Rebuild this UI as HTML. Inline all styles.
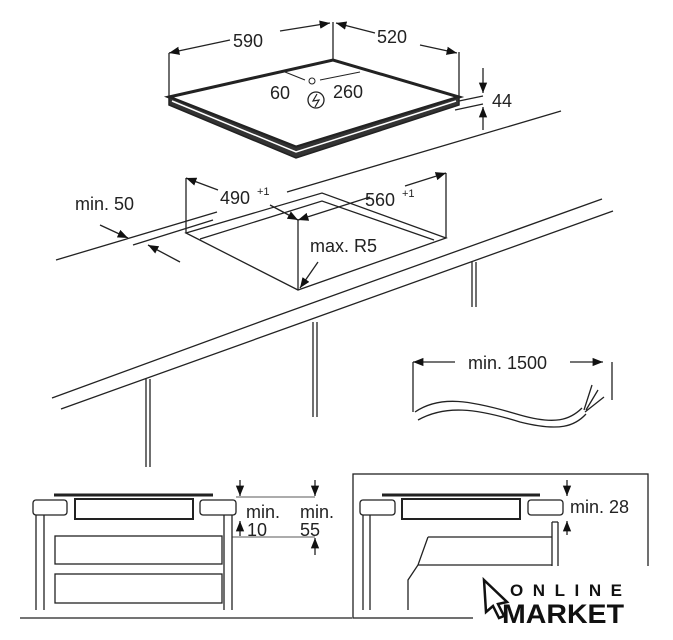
<!DOCTYPE html>
<html><head><style>body{margin:0;background:#fff}svg{display:block}text{font-family:"Liberation Sans",Arial,sans-serif;font-size:18px;fill:#222}</style></head>
<body>
<svg width="673" height="640" viewBox="0 0 673 640" xmlns="http://www.w3.org/2000/svg">
<defs><marker id="a" viewBox="0 0 10 10" refX="10" refY="5" markerWidth="8" markerHeight="8" orient="auto-start-reverse"><path d="M0,1 L10,5 L0,9z" fill="#111"/></marker></defs>
<g stroke="#222" fill="none" stroke-width="1.3">
<!-- hob -->
<path d="M169,97 L333,60 L459,97 L296,147 Z" stroke-width="3" fill="#fff"/>
<path d="M169,97 L296,147 L459,97 L459,105 L296,158 L169,105 Z" stroke-width="1.5" fill="#333"/>
<path d="M172,101 L296,152 L456,101" stroke="#fff" stroke-width="1.5"/>
<path d="M169,53 V97 M333,22 V60 M459,52 V96"/>
<path d="M169,53 L230,40" marker-start="url(#a)"/><path d="M280,31 L330,23" marker-end="url(#a)"/>
<path d="M336,23 L375,33" marker-start="url(#a)"/><path d="M420,45 L457,53" marker-end="url(#a)"/>
<path d="M285,72 L305,80 M320,80 L360,72" stroke-width="1"/>
<circle cx="312" cy="81" r="3" stroke-width="1"/>
<circle cx="316" cy="100" r="8"/><path d="M317,94 L313,101 L319,100 L315,107" stroke-width="1.2"/>
<path d="M459,101 L483,96 M455,110 L483,104"/>
<path d="M483,68 V93" marker-end="url(#a)"/><path d="M483,130 V107" marker-end="url(#a)"/>
<!-- counter -->
<path d="M561,111 L287,192 M217,212 L56,260"/>
<path d="M602,199 L265,320 L52,398 M613,211 L309,320 L61,409"/>
<path d="M472,262 V307 M476,262 V307 M313,322 V417 M317,322 V417 M146,379 V467 M150,379 V467"/>
<!-- cutout -->
<path d="M186,233 L322,193 L446,238 L298,290 Z"/>
<path d="M200,239 L322,201 L434,240"/>
<path d="M186,178 V233 M446,173 V238 M298,220 V290"/>
<path d="M186,178 L218,190" marker-start="url(#a)"/><path d="M270,205 L298,220" marker-end="url(#a)"/>
<path d="M405,186 L446,173" marker-end="url(#a)"/><path d="M370,197 L298,220" marker-end="url(#a)"/>
<path d="M318,262 L300,288" marker-end="url(#a)"/>
<path d="M100,225 L128,238" marker-end="url(#a)"/><path d="M180,262 L148,245" marker-end="url(#a)"/>
<path d="M133,245 L213,220"/>
<!-- cable -->
<path d="M413,362 V412 M612,362 V400"/>
<path d="M455,362 H413" marker-end="url(#a)"/><path d="M570,362 H603" marker-end="url(#a)"/>
<path d="M415,412 C440,395 470,400 520,415 C555,425 570,420 582,408"/>
<path d="M418,420 C445,405 475,408 520,422 C560,432 575,426 586,414"/>
<path d="M584,410 L592,385 M586,410 L598,390 M585,412 L604,397"/>
<!-- bottom left -->
<path d="M20,618 H352"/>
<path d="M54,495 H213" stroke-width="3"/>
<rect x="75" y="499" width="118" height="20" stroke-width="2"/>
<rect x="33" y="500" width="34" height="15" rx="3" fill="#fff"/>
<rect x="200" y="500" width="36" height="15" rx="3" fill="#fff"/>
<path d="M36,515 V610 M44,515 V610 M224,515 V610 M232,515 V610"/>
<rect x="55" y="536" width="167" height="28"/><rect x="55" y="574" width="167" height="29"/>
<path d="M236,497 H315 M232,537 H315" stroke-width="0.8"/>
<path d="M240,480 V496" marker-end="url(#a)"/><path d="M240,536 V521" marker-end="url(#a)"/>
<path d="M315,480 V496" marker-end="url(#a)"/><path d="M315,555 V538" marker-end="url(#a)"/>
<!-- bottom right -->
<rect x="353" y="474" width="295" height="144"/>
<path d="M382,495 H540" stroke-width="3"/>
<rect x="402" y="499" width="118" height="20" stroke-width="2"/>
<rect x="360" y="500" width="35" height="15" rx="3" fill="#fff"/>
<rect x="528" y="500" width="35" height="15" rx="3" fill="#fff"/>
<path d="M363,515 V610 M370,515 V610"/>
<path d="M552,522 V580 M558,522 V580 M552,522 H558"/>
<path d="M428,537 H552 M428,537 L418,565 L408,580 V610 M418,565 H552"/>
<path d="M567,480 V496" marker-end="url(#a)"/><path d="M567,535 V521" marker-end="url(#a)"/>
</g>
<text x="233" y="47">590</text><text x="377" y="43">520</text>
<text x="270" y="99">60</text><text x="333" y="98">260</text>
<text x="492" y="107">44</text>
<text x="220" y="204">490</text><text x="257" y="195" style="font-size:11px">+1</text>
<text x="365" y="206">560</text><text x="402" y="197" style="font-size:11px">+1</text>
<text x="75" y="210">min. 50</text>
<text x="310" y="252">max. R5</text>
<text x="468" y="369">min. 1500</text>
<text x="246" y="518">min.</text><text x="247" y="536">10</text>
<text x="300" y="518">min.</text><text x="300" y="536">55</text>
<text x="570" y="513">min. 28</text>
<rect x="473" y="566" width="190" height="74" fill="#fff"/>
<path d="M484,580 L507,602 L498,604 L504,616 L499,618 L493,606 L486,612 Z" fill="#fff" stroke="#111" stroke-width="2.5"/>
<text x="510" y="596" style="font-size:17px;font-weight:bold;fill:#111" textLength="112" lengthAdjust="spacing">ONLINE</text>
<text x="502" y="623" style="font-size:27px;font-weight:bold;fill:#111" textLength="122" lengthAdjust="spacingAndGlyphs">MARKET</text>
</svg>
</body></html>
